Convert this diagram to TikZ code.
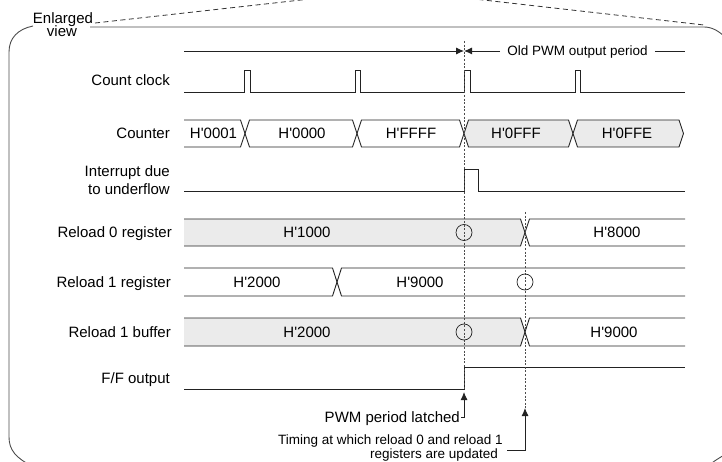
\documentclass[tikz,border=0pt]{standalone}
\usepackage{fontspec}
\newfontfamily\lab{Liberation Sans}
\usetikzlibrary{arrows.meta}
\definecolor{busgray}{HTML}{EBEBEB}
\definecolor{linec}{HTML}{222222}
\begin{document}
\begin{tikzpicture}[x=1pt,y=-1pt,
  lbl/.style={font=\lab\fontsize{15}{18}\selectfont, inner sep=0pt, text height=10.7pt, text depth=0pt},
  sml/.style={font=\lab\fontsize{13.5}{15}\selectfont, inner sep=0pt, text height=9.7pt, text depth=0pt},
  wave/.style={line width=0.9pt, draw=linec, line join=miter},
  busfill/.style={fill=busgray},
  guide/.style={line width=0.8pt, draw=black!70, dash pattern=on 2pt off 1.6pt},
  framel/.style={line width=0.9pt, draw=black!70},
  dashline/.style={line width=0.8pt, draw=black!80, dash pattern=on 5pt off 3.5pt},
  arr/.style={line width=0.9pt, draw=linec, -{Latex[length=8pt,width=7pt]}},
  ring/.style={draw=linec, circle, minimum size=16pt, inner sep=0pt, line width=0.7pt}
]
\path[use as bounding box] (0,0) rectangle (722,462);
\clip (0,0) rectangle (722,462);

% enlarged-view frame
\draw[framel] (33,26) .. controls (18,29) and (9,38) .. (9,52) -- (9,437) .. controls (9,450) and (16,458) .. (32,466);
\draw[framel] (90,27) -- (704,27) .. controls (712,27) and (719,31) .. (726,38);
\draw[framel] (708,466) .. controls (714,461) and (719,458) .. (726,454);
\draw[dashline] (95,23) -- (310,-1);
\draw[dashline] (470,-1.5) -- (704,25);
\node[lbl] (enl) at (63,18) {Enlarged};
\node[lbl] (view) at (62,31.5) {view};

% row labels
\node[lbl, anchor=east] (lcc) at (170,80) {Count clock};
\node[lbl, anchor=east] (lcnt) at (170,133.5) {Counter};
\node[lbl, anchor=east] (lint1) at (170,171.5) {Interrupt due};
\node[lbl, anchor=east] (lint2) at (170,189.5) {to underflow};
\node[lbl, anchor=east] (lr0) at (172,232.5) {Reload 0 register};
\node[lbl, anchor=east] (lr1) at (171,282) {Reload 1 register};
\node[lbl, anchor=east] (lb1) at (171,332) {Reload 1 buffer};
\node[lbl, anchor=east] (lff) at (170,378.5) {F/F output};

% period arrow
\coordinate (pstart) at (184,51);
\coordinate (pmid) at (464,51);
\coordinate (pend) at (685,51);
\node[sml] (old) at (577.5,51) {Old PWM output period};
\draw[arr] (pstart) -- (pmid);
\draw[arr] ([xshift=-7pt]old.west) -- (pmid);
\draw[wave] ([xshift=7pt]old.east) -- (pend);

% count clock
\draw[wave] (184,92) -- (244,92) -- (244,70) -- (250,70) -- (250,92)
  -- (355,92) -- (355,70) -- (360,70) -- (360,92)
  -- (464,92) -- (464,70) -- (470,70) -- (470,92)
  -- (575,92) -- (575,70) -- (580,70) -- (580,92) -- (685,92);

% counter
\draw[wave] (184,120) -- (240.5,120) -- (245,133.5) -- (240.5,147) -- (184,147);
\draw[wave] (249.5,120) -- (352.5,120) -- (357,133.5) -- (352.5,147) -- (249.5,147) -- (245,133.5) -- cycle;
\draw[wave] (361.5,120) -- (459.5,120) -- (464,133.5) -- (459.5,147) -- (361.5,147) -- (357,133.5) -- cycle;
\draw[wave, busfill] (468.5,120) -- (568.5,120) -- (573,133.5) -- (568.5,147) -- (468.5,147) -- (464,133.5) -- cycle;
\draw[wave, busfill] (577.5,120) -- (679,120) -- (683.5,133.5) -- (679,147) -- (577.5,147) -- (573,133.5) -- cycle;
\node[lbl] (c1) at (213.5,133.5) {H'0001};
\node[lbl] (c2) at (302,133.5) {H'0000};
\node[lbl] (c3) at (411,133.5) {H'FFFF};
\node[lbl] (c4) at (516,133.5) {H'0FFF};
\node[lbl] (c5) at (627,133.5) {H'0FFE};

% interrupt
\draw[wave] (184,191) -- (464,191) -- (464,169) -- (478,169) -- (478,191) -- (685,191);

% reload 0 register
\fill[busfill] (184,219) -- (520.5,219) -- (525,232.5) -- (520.5,246) -- (184,246) -- cycle;
\draw[wave] (184,219) -- (520.5,219) -- (525,232.5) -- (520.5,246) -- (184,246);
\draw[wave] (685,219) -- (529.5,219) -- (525,232.5) -- (529.5,246) -- (685,246);
\node[lbl] (r0a) at (307,232.5) {H'1000};
\node[lbl] (r0b) at (617,232.5) {H'8000};

% reload 1 register
\draw[wave] (184,268) -- (332.5,268) -- (337,282) -- (332.5,296) -- (184,296);
\draw[wave] (685,268) -- (341.5,268) -- (337,282) -- (341.5,296) -- (685,296);
\node[lbl] (r1a) at (257,282) {H'2000};
\node[lbl] (r1b) at (420,282) {H'9000};

% reload 1 buffer
\fill[busfill] (184,318) -- (520.5,318) -- (525,332) -- (520.5,346) -- (184,346) -- cycle;
\draw[wave] (184,318) -- (520.5,318) -- (525,332) -- (520.5,346) -- (184,346);
\draw[wave] (685,318) -- (529.5,318) -- (525,332) -- (529.5,346) -- (685,346);
\node[lbl] (b1a) at (307,332) {H'2000};
\node[lbl] (b1b) at (614,332) {H'9000};

% F/F output
\draw[wave] (184,389) -- (464,389) -- (464,367) -- (685,367);

% guides
\draw[guide] (464,41) -- (464,389);
\draw[guide] (525,212) -- (525,408);

% rings
\node[ring] (m1) at (464,232.5) {};
\node[ring] (m2) at (525,282) {};
\node[ring] (m3) at (464,332) {};

% annotations
\node[lbl, anchor=east] (pwm) at (460,417) {PWM period latched};
\coordinate (t1) at (464,392);
\draw[arr] ([xshift=1pt]pwm.east) -| (t1);
\node[sml, anchor=east] (upd1) at (503,439.5) {Timing at which reload 0 and reload 1};
\node[sml, anchor=east] (upd2) at (498,453.5) {registers are updated};
\coordinate (u2) at (507,450);
\coordinate (t2) at (525,408);
\draw[arr] (u2) -| (t2);
\end{tikzpicture}
\end{document}
